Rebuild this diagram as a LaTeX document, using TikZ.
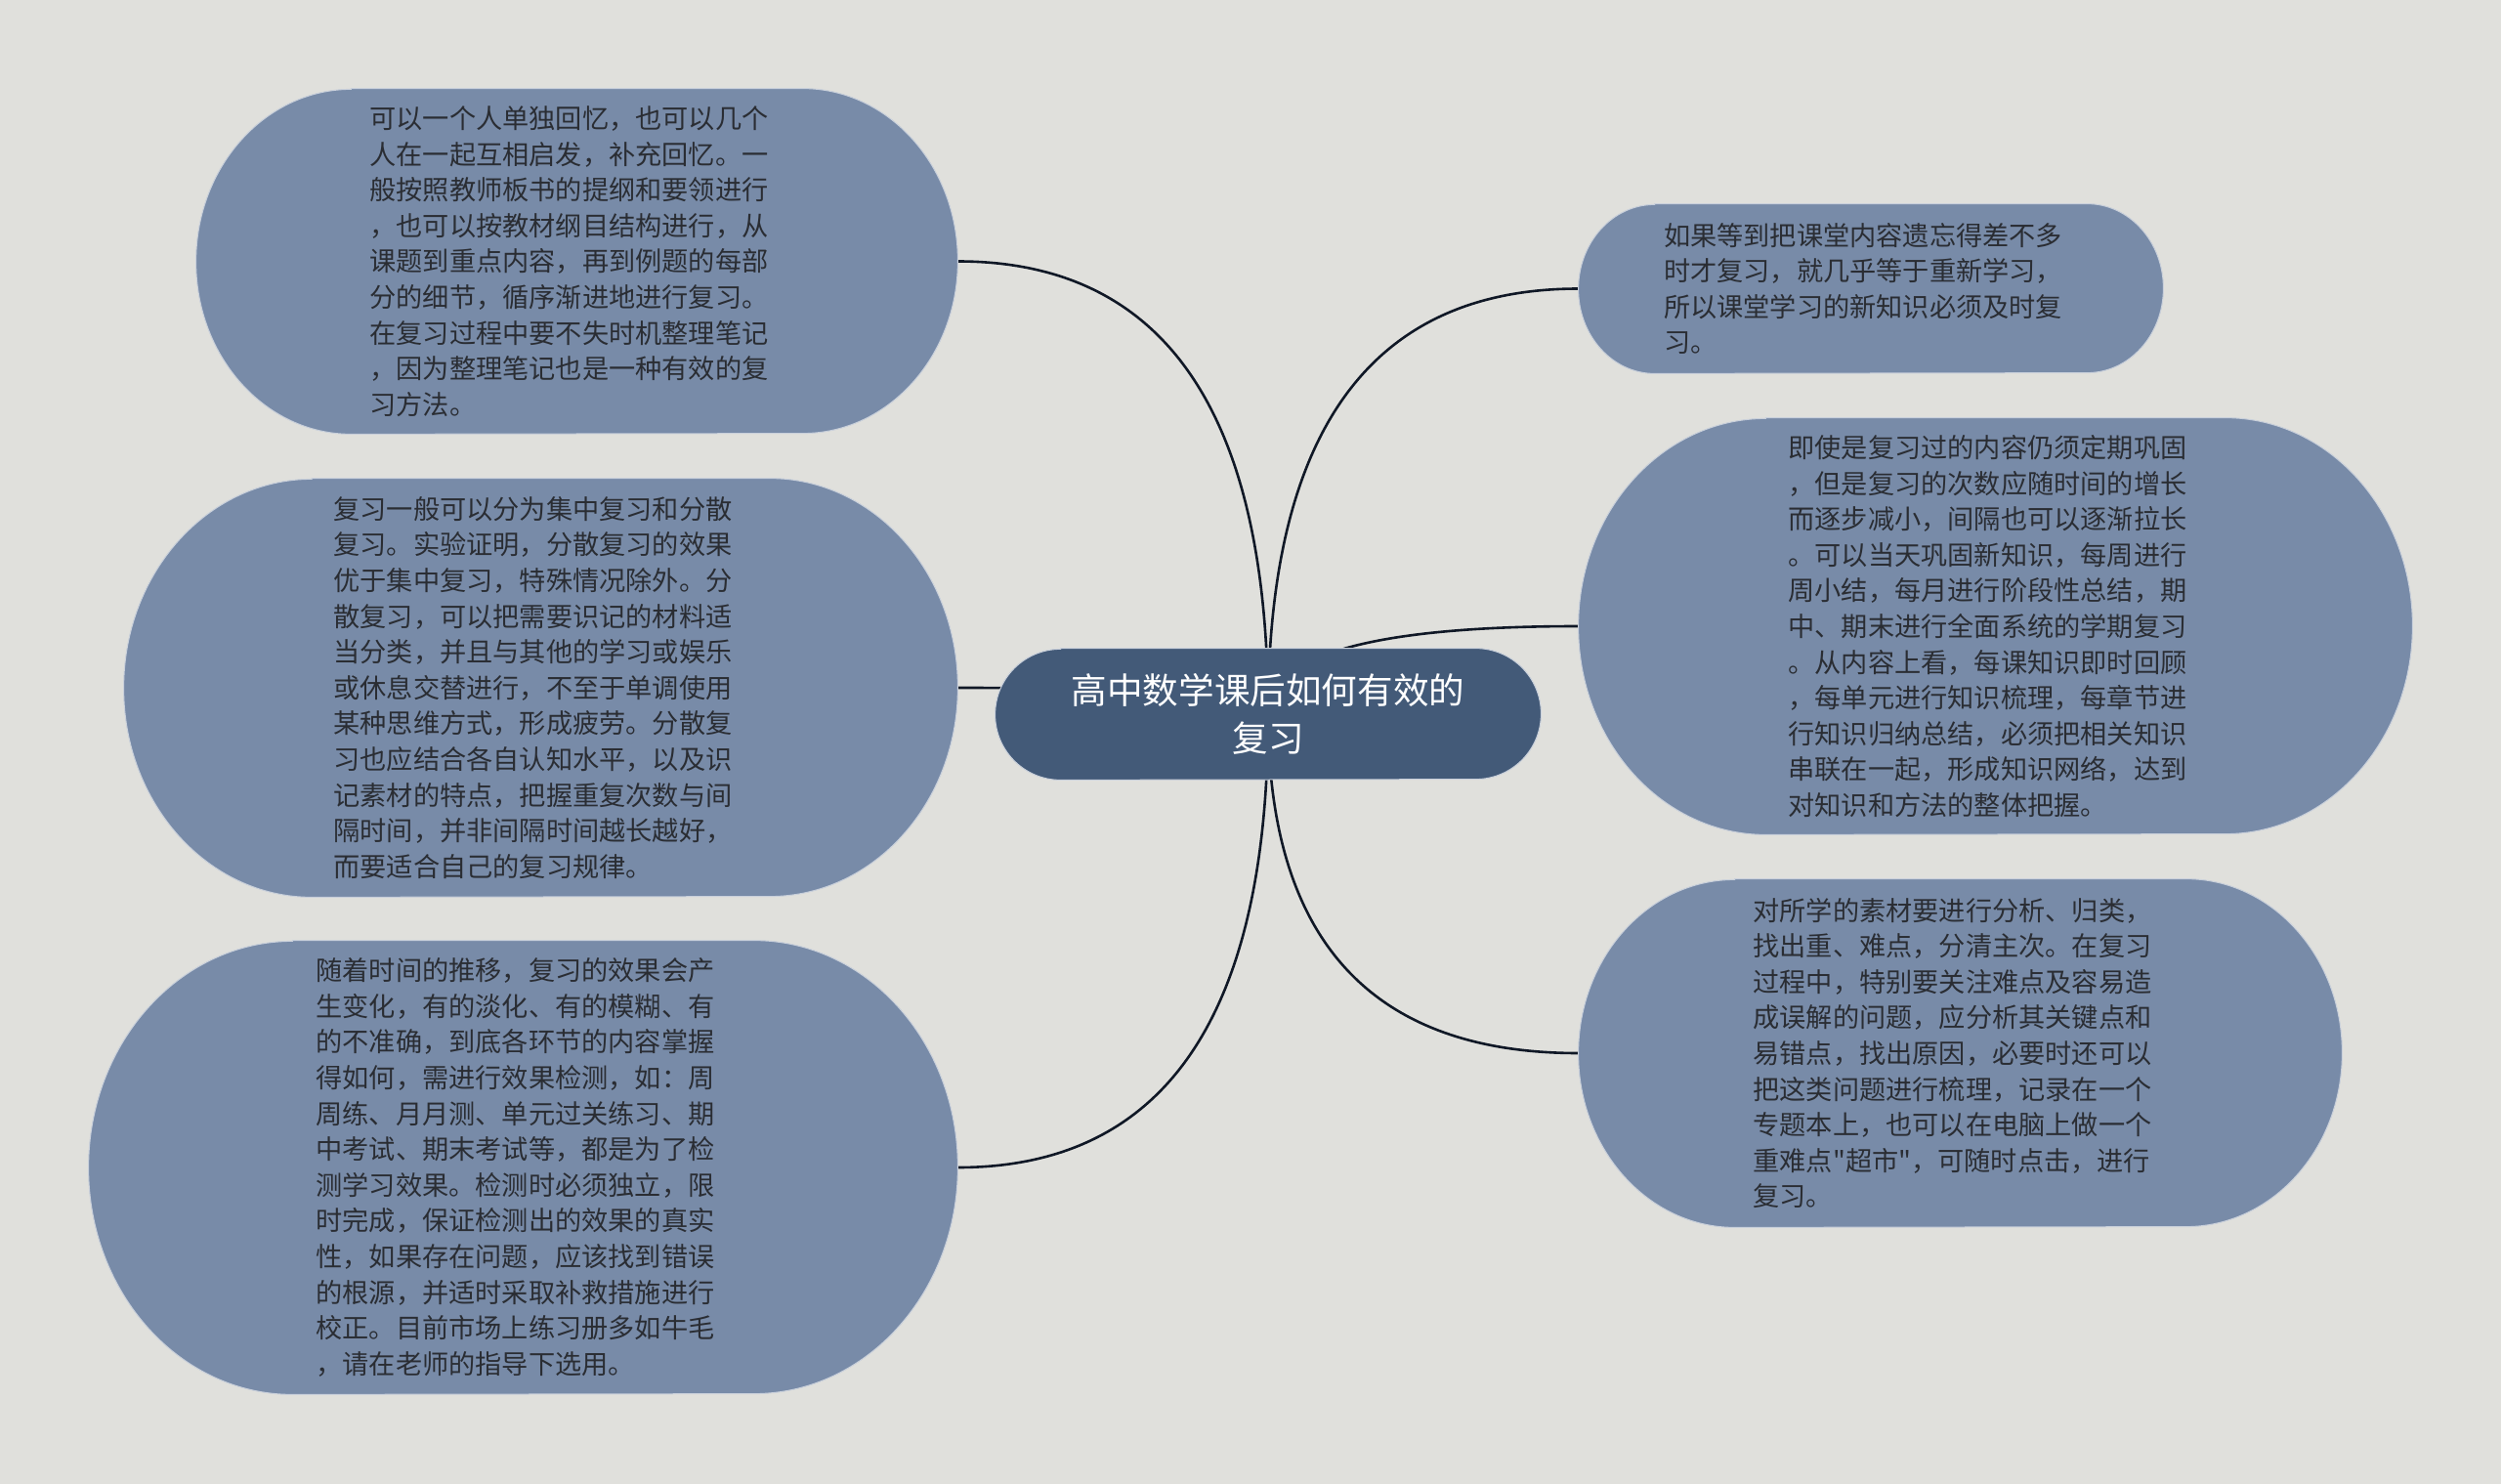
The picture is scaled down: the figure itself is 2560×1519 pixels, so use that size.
\documentclass[tikz,border=0pt]{standalone}
\usepackage{fontspec}
\newfontfamily\cjk{Noto Sans CJK SC}
\usetikzlibrary{calc,backgrounds}
\definecolor{bgcol}{HTML}{E0E0DC}
\definecolor{leafcol}{HTML}{788BA8}
\definecolor{rootcol}{HTML}{435A78}
\definecolor{wirecol}{HTML}{101826}
\definecolor{inkcol}{HTML}{2A2D33}
\definecolor{rimcol}{HTML}{C9D0DB}
% #1 node name, #2 end x-radius, #3 end y-radius (half height), #4 style
\newcommand\bubbleshape[4]{%
  \path[#4] ($(#1.north west)+(#2,0pt)$) -- ($(#1.north east)-(#2,0pt)$)
    arc[start angle=90,end angle=-90,x radius=#2,y radius=#3]
    -- ($(#1.south west)+(#2,0pt)$)
    arc[start angle=270,end angle=90,x radius=#2,y radius=#3] -- cycle;}
% quadratic-looking link from centre #1 to anchor #2
\newcommand\linkto[2]{%
  \draw[wire] (#1) .. controls ($(#1)!2/3!(#1 |- #2)$) and ($(#2)!2/3!(#1 |- #2)$) .. (#2);}
\begin{document}
\begin{tikzpicture}[x=0.5pt,y=-0.5pt,
  leafbox/.style={shape=rectangle,inner sep=0pt,align=left,text=inkcol,
    text width=212pt,font=\cjk\fontsize{13.6}{18.3}\selectfont},
  rootbox/.style={shape=rectangle,inner sep=0pt,align=center,text=white,
    font=\cjk\fontsize{18.3}{24.5}\selectfont},
  leaffill/.style={fill=leafcol,draw=rimcol,line width=0.5pt},
  rootfill/.style={fill=rootcol,draw=rimcol,line width=0.5pt},
  wire/.style={draw=wirecol,line width=1.3pt}]
\useasboundingbox (0,0) rectangle (2560,1519);

\node[rootbox,minimum width=279pt,minimum height=67pt] (c) at (1298,731)
  {高中数学课后如何有效的\\复习};

\node[leafbox,minimum width=389.5pt,minimum height=176.5pt] (n1) at (590.5,267.5)
  {可以一个人单独回忆，也可以几个\\
人在一起互相启发，补充回忆。一\\
般按照教师板书的提纲和要领进行\\
，也可以按教材纲目结构进行，从\\
课题到重点内容，再到例题的每部\\
分的细节，循序渐进地进行复习。\\
在复习过程中要不失时机整理笔记\\
，因为整理笔记也是一种有效的复\\
习方法。};

\node[leafbox,minimum width=426.5pt,minimum height=214pt] (n2) at (553.5,704)
  {复习一般可以分为集中复习和分散\\
复习。实验证明，分散复习的效果\\
优于集中复习，特殊情况除外。分\\
散复习，可以把需要识记的材料适\\
当分类，并且与其他的学习或娱乐\\
或休息交替进行，不至于单调使用\\
某种思维方式，形成疲劳。分散复\\
习也应结合各自认知水平，以及识\\
记素材的特点，把握重复次数与间\\
隔时间，并非间隔时间越长越好，\\
而要适合自己的复习规律。};

\node[leafbox,minimum width=444.5pt,minimum height=232pt] (n3) at (535.5,1195)
  {随着时间的推移，复习的效果会产\\
生变化，有的淡化、有的模糊、有\\
的不准确，到底各环节的内容掌握\\
得如何，需进行效果检测，如：周\\
周练、月月测、单元过关练习、期\\
中考试、期末考试等，都是为了检\\
测学习效果。检测时必须独立，限\\
时完成，保证检测出的效果的真实\\
性，如果存在问题，应该找到错误\\
的根源，并适时采取补救措施进行\\
校正。目前市场上练习册多如牛毛\\
，请在老师的指导下选用。};

\node[leafbox,minimum width=299pt,minimum height=86.5pt] (n4) at (1915,295.5)
  {如果等到把课堂内容遗忘得差不多\\
时才复习，就几乎等于重新学习，\\
所以课堂学习的新知识必须及时复\\
习。};

\node[leafbox,minimum width=426.5pt,minimum height=213pt] (n5) at (2042.5,641)
  {即使是复习过的内容仍须定期巩固\\
，但是复习的次数应随时间的增长\\
而逐步减小，间隔也可以逐渐拉长\\
。可以当天巩固新知识，每周进行\\
周小结，每月进行阶段性总结，期\\
中、期末进行全面系统的学期复习\\
。从内容上看，每课知识即时回顾\\
，每单元进行知识梳理，每章节进\\
行知识归纳总结，必须把相关知识\\
串联在一起，形成知识网络，达到\\
对知识和方法的整体把握。};

\node[leafbox,minimum width=390.5pt,minimum height=178pt] (n6) at (2006.5,1078)
  {对所学的素材要进行分析、归类，\\
找出重、难点，分清主次。在复习\\
过程中，特别要关注难点及容易造\\
成误解的问题，应分析其关键点和\\
易错点，找出原因，必要时还可以\\
把这类问题进行梳理，记录在一个\\
专题本上，也可以在电脑上做一个\\
重难点"超市"，可随时点击，进行\\
复习。};

\begin{pgfonlayer}{background}
  \fill[bgcol] (0,0) rectangle (2560,1519);
  \linkto{c.center}{n1.east}
  \linkto{c.center}{n2.east}
  \linkto{c.center}{n3.east}
  \linkto{c.center}{n4.west}
  \linkto{c.center}{n5.west}
  \linkto{c.center}{n6.west}
  \bubbleshape{n1}{79.4pt}{88.25pt}{leaffill}
  \bubbleshape{n2}{96.3pt}{107pt}{leaffill}
  \bubbleshape{n3}{104.4pt}{116pt}{leaffill}
  \bubbleshape{n4}{39pt}{43.25pt}{leaffill}
  \bubbleshape{n5}{95.9pt}{106.5pt}{leaffill}
  \bubbleshape{n6}{80pt}{89pt}{leaffill}
  \bubbleshape{c}{33.5pt}{33.5pt}{rootfill}
\end{pgfonlayer}
\end{tikzpicture}
\end{document}
